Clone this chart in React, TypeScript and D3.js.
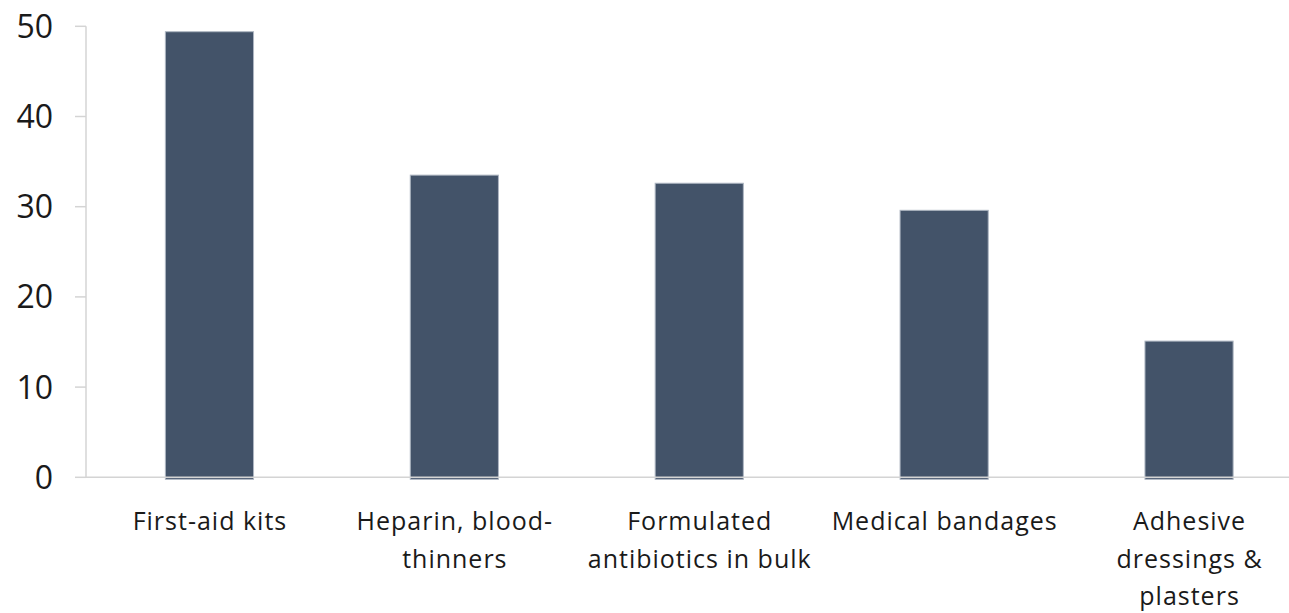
import React from "react";
import * as d3 from "d3";

const categories: string[][] = [
  ["First-aid kits"],
  ["Heparin, blood-", "thinners"],
  ["Formulated", "antibiotics in bulk"],
  ["Medical bandages"],
  ["Adhesive", "dressings &", "plasters"],
];
const values: number[] = [49.4, 33.5, 32.6, 29.6, 15.1];
const yTicks: number[] = [0, 10, 20, 30, 40, 50];

const W = 1289;
const H = 613;
const left = 87;
const right = 1311.5;
const top = 26.3;
const bottom = 477.3;

export default function App() {
  const keys = categories.map((c) => c.join(" "));
  const x = d3.scaleBand<string>().domain(keys).range([left, right]).paddingInner(0.64).paddingOuter(0.32);
  const y = d3.scaleLinear().domain([0, 50]).range([bottom, top]);
  const font = "'Open Sans', Lato, sans-serif";
  return (
    <svg width={W} height={H} style={{ position: "absolute", left: 0, top: 0, background: "#fff" }}>
      {keys.map((k, i) => (
        <rect
          key={k}
          x={x(k)!}
          y={y(values[i])}
          width={x.bandwidth()}
          height={y(0) - y(values[i]) + 2}
          fill="#435369"
          stroke="#aeb6c2"
          strokeWidth={1}
        />
      ))}
      <line x1={86} x2={W} y1={bottom} y2={bottom} stroke="#d4d4d4" strokeWidth={1.5} />
      <line x1={86} x2={86} y1={top} y2={bottom} stroke="#d4d4d4" strokeWidth={1.5} />
      {yTicks.map((t) => (
        <g key={t}>
          <line x1={75} x2={86} y1={y(t)} y2={y(t)} stroke="#d4d4d4" strokeWidth={1.5} />
          <text x={53} y={y(t)} dy="0.36em" textAnchor="end" fontFamily={font} fontSize={32} fill="#1a1a1a">
            {t}
          </text>
        </g>
      ))}
      {keys.map((k, i) => (
        <text
          key={k}
          x={x(k)! + x.bandwidth() / 2}
          textAnchor="middle"
          fontFamily={font}
          fontSize={25}
          letterSpacing={1}
          fill="#1a1a1a"
        >
          {categories[i].map((line, j) => (
            <tspan key={j} x={x(k)! + x.bandwidth() / 2 + 0.5} y={530 + j * 37.7}>
              {line}
            </tspan>
          ))}
        </text>
      ))}
    </svg>
  );
}
